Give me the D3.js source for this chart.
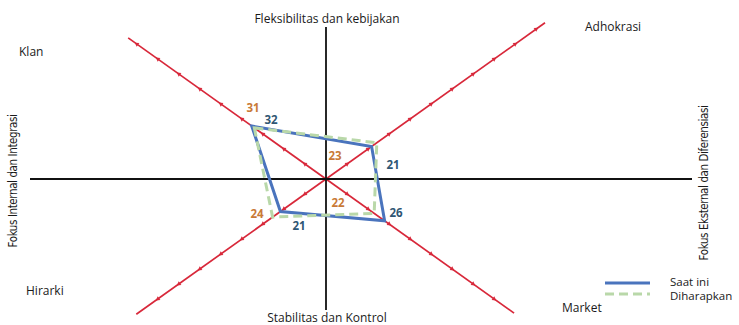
<!DOCTYPE html>
<html>
<head>
<meta charset="utf-8">
<script src="https://cdn.jsdelivr.net/npm/d3@7"></script>
<style>
  body { margin: 0; background: #fff; }
  svg { display: block; font-family: "Open Sans", "Noto Sans", sans-serif; }
</style>
</head>
<body>
<div id="chart"></div>
<script>
const width = 739;
const height = 325;

// quadrants, clockwise from top-left
const categories = ["Klan", "Adhokrasi", "Market", "Hirarki"];
const saatIni = [32, 21, 26, 21];
const diharapkan = [31, 23, 22, 24];
const seriesNames = ["Saat ini", "Diharapkan"];
const axisTitles = ["Fleksibilitas dan kebijakan", "Stabilitas dan Kontrol",
  "Fokus Internal dan Integrasi", "Fokus Eksternal dan Diferensiasi"];
const tickSteps = d3.range(1, 11);

const cx = 326, cy = 179;
const ang = 35.5 * Math.PI / 180;
const dirs = [
  [-Math.cos(ang), -Math.sin(ang)],
  [Math.cos(ang), -Math.sin(ang)],
  [Math.cos(ang), Math.sin(ang)],
  [-Math.cos(ang), Math.sin(ang)]
];
const armLength = [243, 269, 231, 233];

const r = d3.scaleLinear().domain([3.5, 40]).range([0, 116.8]);
const tickR = d3.scaleLinear().domain([0, 1]).range([0, 25.8]);

const svg = d3.select("#chart").append("svg")
  .attr("width", width)
  .attr("height", height);

const red = "#d8283a";

// diagonal arms with small tick marks
dirs.forEach((d, i) => {
  svg.append("line")
    .attr("x1", cx).attr("y1", cy)
    .attr("x2", cx + d[0] * armLength[i])
    .attr("y2", cy + d[1] * armLength[i])
    .attr("stroke", red)
    .attr("stroke-width", 1.7);

  const rot = Math.atan2(d[1], d[0]) * 180 / Math.PI + 90;
  svg.append("g").selectAll("path")
    .data(tickSteps.filter(t => tickR(t) < armLength[i] - 4))
    .join("path")
    .attr("d", d3.symbol(d3.symbolTriangle, 9))
    .attr("transform", t => `translate(${cx + d[0] * tickR(t)},${cy + d[1] * tickR(t)}) rotate(${rot})`)
    .attr("fill", red);
});

// black axes
svg.append("line").attr("x1", 30).attr("x2", 692).attr("y1", cy).attr("y2", cy)
  .attr("stroke", "#111").attr("stroke-width", 1.8);
svg.append("line").attr("x1", cx).attr("x2", cx).attr("y1", 27).attr("y2", 310)
  .attr("stroke", "#111").attr("stroke-width", 1.8);

const pt = (v, i) => [cx + dirs[i][0] * r(v), cy + dirs[i][1] * r(v)];
const line = d3.line().curve(d3.curveLinearClosed);

svg.append("path")
  .attr("d", line(saatIni.map(pt)))
  .attr("fill", "none")
  .attr("stroke", "#4a74bd")
  .attr("stroke-width", 3)
  .attr("stroke-linejoin", "miter");

svg.append("path")
  .attr("d", line(diharapkan.map(pt)))
  .attr("fill", "none")
  .attr("stroke", "#b9d8a9")
  .attr("stroke-width", 3)
  .attr("stroke-dasharray", "9,5");

// value labels
const orangeLabelPos = [[253, 108], [335, 156], [338, 203], [257, 214]];
const blueLabelPos = [[271, 120], [393, 165], [396, 213], [299, 226]];

svg.append("g").selectAll("text")
  .data(diharapkan)
  .join("text")
  .attr("x", (d, i) => orangeLabelPos[i][0])
  .attr("y", (d, i) => orangeLabelPos[i][1])
  .attr("text-anchor", "middle")
  .attr("dy", "0.35em")
  .attr("font-size", 11.5)
  .attr("font-weight", "bold")
  .attr("fill", "#c97a37")
  .text(d => d);

svg.append("g").selectAll("text")
  .data(saatIni)
  .join("text")
  .attr("x", (d, i) => blueLabelPos[i][0])
  .attr("y", (d, i) => blueLabelPos[i][1])
  .attr("text-anchor", "middle")
  .attr("dy", "0.35em")
  .attr("font-size", 11.5)
  .attr("font-weight", "bold")
  .attr("fill", "#2f5673")
  .text(d => d);

// quadrant names
const quadPos = [[19, 52], [585, 27], [562, 308], [26, 291]];
svg.append("g").selectAll("text")
  .data(categories)
  .join("text")
  .attr("x", (d, i) => quadPos[i][0])
  .attr("y", (d, i) => quadPos[i][1])
  .attr("dy", "0.35em")
  .attr("font-size", 12)
  .attr("fill", "#1a1a1a")
  .text(d => d);

// axis titles
svg.append("text").attr("x", cx + 1).attr("y", 19).attr("dy", "0.35em")
  .attr("text-anchor", "middle").attr("font-size", 12).attr("fill", "#1a1a1a")
  .text(axisTitles[0]);
svg.append("text").attr("x", cx + 1).attr("y", 318).attr("dy", "0.35em")
  .attr("text-anchor", "middle").attr("font-size", 12).attr("fill", "#1a1a1a")
  .text(axisTitles[1]);
svg.append("text")
  .attr("transform", "translate(13,181) rotate(-90)")
  .attr("dy", "0.35em")
  .attr("text-anchor", "middle").attr("font-size", 11.5).attr("fill", "#1a1a1a")
  .attr("font-family", "DejaVu Sans Condensed, sans-serif")
  .attr("letter-spacing", -0.4)
  .text(axisTitles[2]);
svg.append("text")
  .attr("transform", "translate(704,183) rotate(-90)")
  .attr("dy", "0.35em")
  .attr("text-anchor", "middle").attr("font-size", 11.5).attr("fill", "#1a1a1a")
  .attr("font-family", "DejaVu Sans Condensed, sans-serif")
  .attr("letter-spacing", -0.4)
  .text(axisTitles[3]);

// legend
const legend = svg.append("g").attr("transform", "translate(605,283)");
legend.append("line").attr("x1", 0).attr("x2", 45).attr("y1", 0).attr("y2", 0)
  .attr("stroke", "#4a74bd").attr("stroke-width", 3);
legend.append("line").attr("x1", 0).attr("x2", 45).attr("y1", 11).attr("y2", 11)
  .attr("stroke", "#b9d8a9").attr("stroke-width", 3).attr("stroke-dasharray", "9,5");
legend.selectAll("text.lbl")
  .data(seriesNames)
  .join("text")
  .attr("class", "lbl")
  .attr("x", 65)
  .attr("y", (d, i) => -1 + i * 14)
  .attr("dy", "0.35em")
  .attr("font-size", 11.5)
  .attr("fill", "#1a1a1a")
  .text(d => d);
</script>
</body>
</html>
